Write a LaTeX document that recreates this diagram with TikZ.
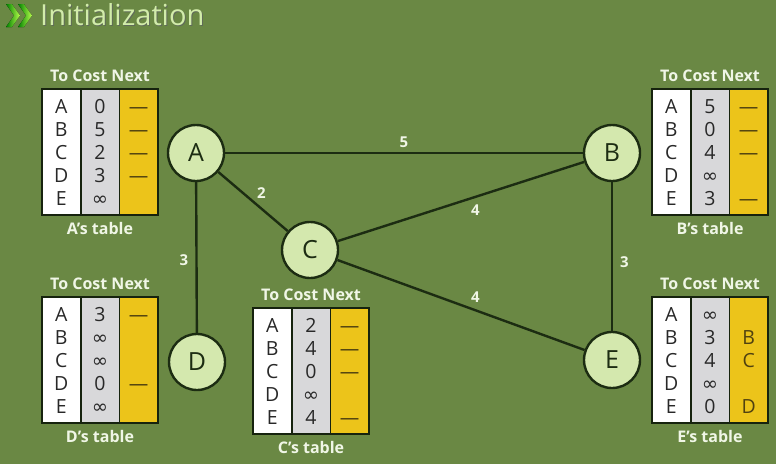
\documentclass[tikz,border=0pt]{standalone}
\usepackage{fontspec}
\setmainfont{Open Sans}
\newfontfamily\symfont{DejaVu Sans}
\usetikzlibrary{positioning}
\definecolor{board}{RGB}{106,136,68}
\definecolor{nodefill}{RGB}{212,232,174}
\definecolor{ink}{RGB}{28,44,18}
\definecolor{costgray}{RGB}{216,216,218}
\definecolor{nextyellow}{RGB}{236,196,26}
\definecolor{titlegreen}{RGB}{210,236,170}
\definecolor{dashcol}{RGB}{80,66,16}
\definecolor{celltext}{RGB}{40,40,40}
\definecolor{headtext}{RGB}{240,246,230}

\newcommand{\inff}{{\symfont ∞}}

\tikzset{
  router/.style={circle, draw=ink, line width=2.4pt, fill=nodefill, minimum size=56pt,
    inner sep=0pt, text=ink, font=\fontsize{25}{25}\selectfont},
  link/.style={draw=ink, line width=2.4pt},
  cost/.style={text=headtext, font=\fontsize{15}{15}\selectfont\bfseries, inner sep=1pt},
  cell/.style={inner sep=0pt, anchor=base, text=celltext, font=\fontsize{19.5}{19.5}\selectfont},
  head/.style={inner sep=0pt, text=headtext, font=\fontsize{16}{16}\selectfont\bfseries},
  tblline/.style={draw=ink!80!black, line width=1.6pt}
}

% routing table: name, left x, top y, costs, next hops
\newcommand{\rtable}[5]{%
  \begin{scope}[shift={(#2,#3)}]
    \fill[white] (0,0) rectangle (38.7,126);
    \fill[costgray] (38.7,0) rectangle (77.3,126);
    \fill[nextyellow] (77.3,0) rectangle (116,126);
    \draw[tblline] (0,0) rectangle (116,126) (38.7,0) -- (38.7,126) (77.3,0) -- (77.3,126);
    \foreach \r [count=\i] in {A,B,C,D,E}
      \node[cell] at (19.3,{24.5+23*(\i-1)}) {\r};
    \foreach \c [count=\i] in {#4}
      \node[cell] at (58,{24.5+23*(\i-1)}) {\c};
    \foreach \n [count=\i] in {#5}
      \node[cell, text=dashcol] at (96.7,{24.5+23*(\i-1)}) {\n};
    \node[head] (#1head) at (58,-13) {To Cost Next};
    \node[head] (#1label) at (58,139) {#1’s table};
  \end{scope}}

\begin{document}
\begin{tikzpicture}[x=1pt, y=-1pt]
    \fill[board] (0,0) rectangle (776,464);
    \useasboundingbox (0,0) rectangle (776,464);

    % title
    \foreach \dx in {0,12}
      \fill[left color=green!50!black, right color=green!40!yellow!70!white]
        ([xshift=\dx]6,4) -- ([xshift=\dx]12,4) -- ([xshift=\dx]20,15.5)
        -- ([xshift=\dx]12,27) -- ([xshift=\dx]6,27) -- ([xshift=\dx]14,15.5) -- cycle;
    \node[anchor=base west, inner sep=0pt, text=ink!70, font=\fontsize{29}{29}\selectfont]
        at (41,26) {Initialization};
    \node[anchor=base west, inner sep=0pt, text=titlegreen, font=\fontsize{29}{29}\selectfont]
        (title) at (40,25) {Initialization};

    % routers
    \node[router] (A) at (196,153) {A};
    \node[router] (B) at (612,153) {B};
    \node[router] (C) at (310,250) {C};
    \node[router] (D) at (197,362) {D};
    \node[router] (E) at (612,360) {E};

    % links
    \path[link] (A) -- node[cost, above=3pt] {5} (B);
    \path[link] (A) -- node[cost, above right=1pt and 2pt] {2} (C);
    \path[link] (A) -- node[cost, left=6pt, yshift=-3pt] {3} (D);
    \path[link] (C) -- node[cost, below right=1pt and 8pt] {4} (B);
    \path[link] (C) -- node[cost, above right=0pt and 8pt] {4} (E);
    \path[link] (B) -- node[cost, right=6pt, yshift=-6pt] {3} (E);

    % tables
    \rtable{A}{42}{89}{0,5,2,3,\inff}{—,—,—,—,{}}
    \rtable{B}{652}{89}{5,0,4,\inff,3}{—,—,—,{},—}
    \rtable{C}{253}{308}{2,4,0,\inff,4}{—,—,—,{},—}
    \rtable{D}{42}{297}{3,\inff,\inff,0,\inff}{—,{},{},—,{}}
    \rtable{E}{652}{297}{\inff,3,4,\inff,0}{{},B,C,{},D}
\end{tikzpicture}
\end{document}
